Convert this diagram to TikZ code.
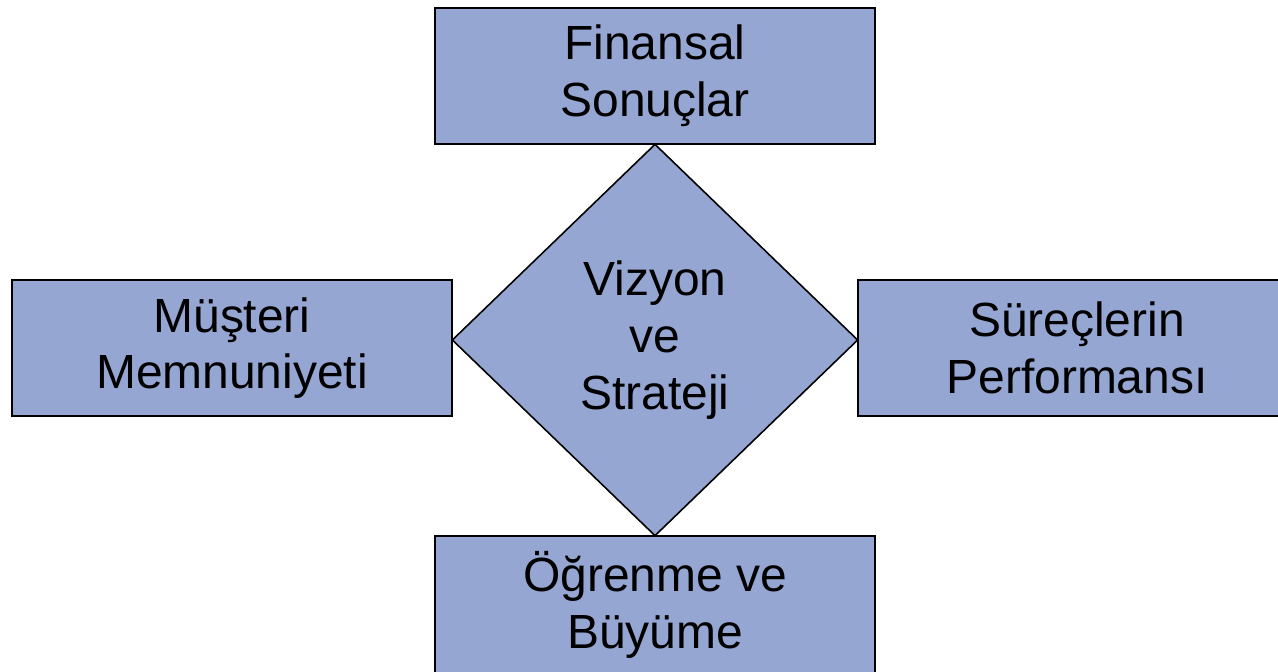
\documentclass[tikz,border=0pt]{standalone}
\usepackage{fontspec}
\setmainfont{Liberation Sans}
\usepackage{tikz}
\usetikzlibrary{shapes.geometric}
\definecolor{boxblue}{RGB}{150,166,210}

\begin{document}
\begin{tikzpicture}[x=0.02cm, y=-0.02cm,
	every node/.style={font=\fontsize{27.3}{32.3}\selectfont, align=center, inner sep=0pt},
	perspbox/.style={draw=black, line width=0.9pt, fill=boxblue, rectangle, minimum width=8.8cm, minimum height=2.72cm},
	visionbox/.style={draw=black, line width=0.9pt, fill=boxblue, diamond, minimum width=8.12cm, minimum height=7.84cm}]
	\useasboundingbox (0,0) rectangle (1278,672);
	\clip (0,0) rectangle (1278,672);
	\node[visionbox] (vision) at (655,340) {Vizyon\\ve\\Strateji};
	\node[perspbox] (finance) at (655,76) {Finansal\\Sonuçlar};
	\node[perspbox] (customer) at (232,348) {Müşteri\\Memnuniyeti};
	\node[perspbox, minimum width=8.76cm] (process) at (1077,348) {Süreçlerin\\Performansı};
	\node[perspbox, minimum height=2.76cm] (growth) at (655,605) {Öğrenme ve\\Büyüme};
\end{tikzpicture}
\end{document}
